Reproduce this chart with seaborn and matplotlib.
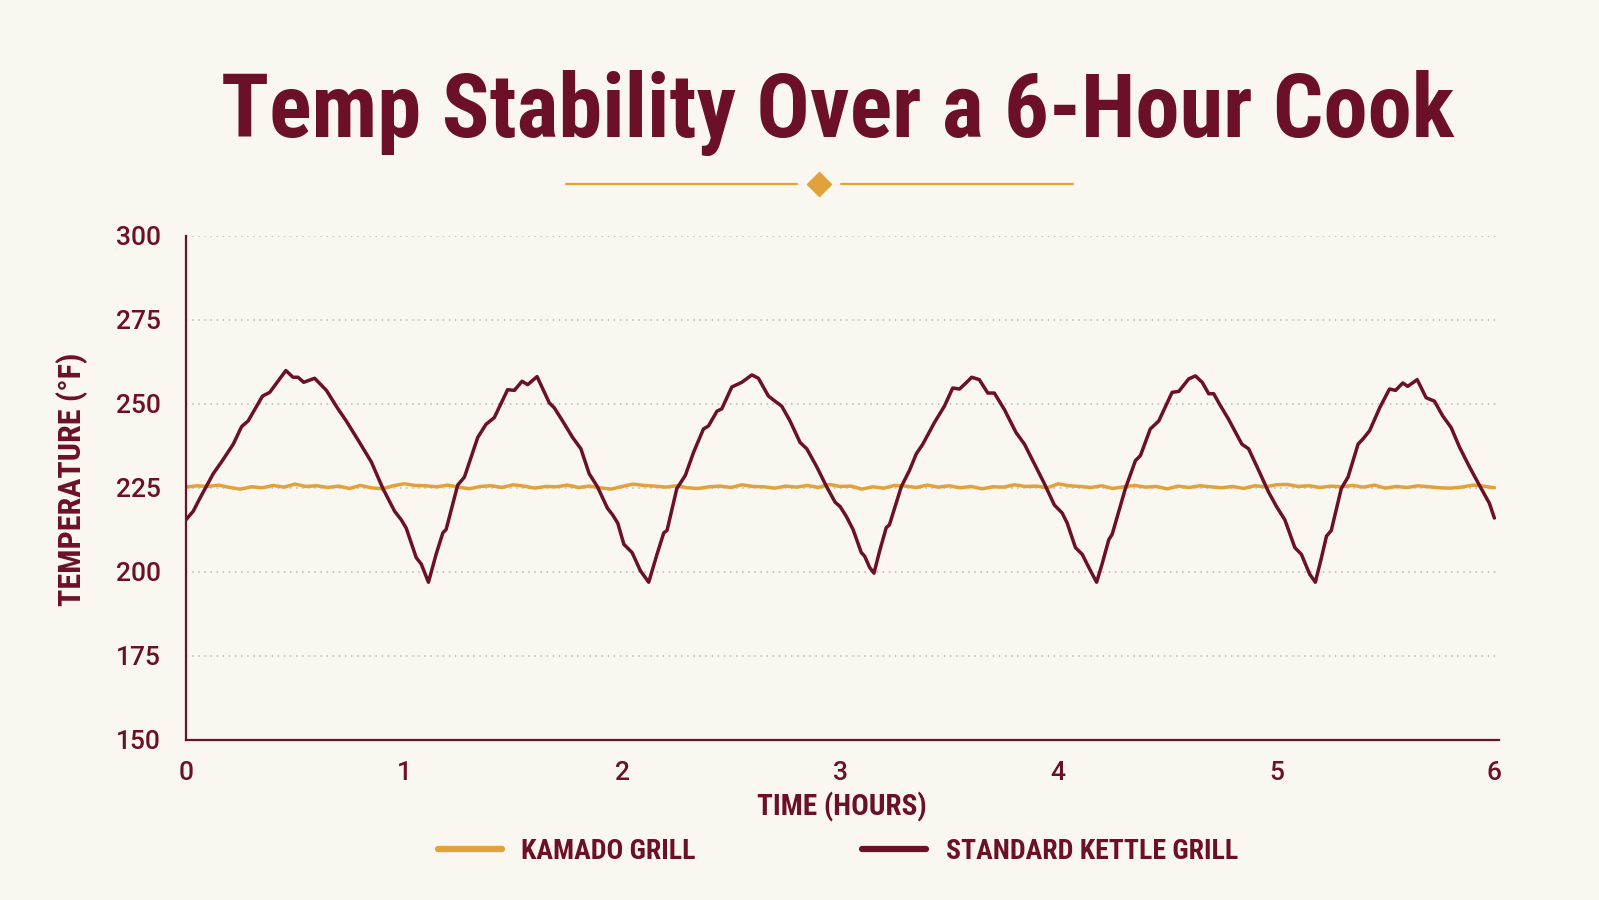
import numpy as np
import pandas as pd
import matplotlib
matplotlib.use("Agg")
import matplotlib.pyplot as plt
from matplotlib.lines import Line2D
import seaborn as sns

# ---------------- data ----------------
kettle_hours = [
    0.000, 0.033, 0.064, 0.125, 0.163, 0.217, 0.255, 0.285, 0.351, 0.384,
    0.458, 0.491, 0.514, 0.540, 0.590, 0.644, 0.697, 0.735, 0.796, 0.850,
    0.903, 0.957, 0.987, 1.010, 1.056, 1.079, 1.112, 1.147, 1.178, 1.193,
    1.246, 1.277, 1.338, 1.376, 1.414, 1.475, 1.506, 1.541, 1.567, 1.610,
    1.666, 1.689, 1.727, 1.773, 1.811, 1.849, 1.887, 1.933, 1.956, 1.980,
    2.008, 2.046, 2.084, 2.122, 2.160, 2.191, 2.206, 2.251, 2.290, 2.328,
    2.373, 2.396, 2.435, 2.457, 2.503, 2.549, 2.595, 2.625, 2.671, 2.701,
    2.732, 2.770, 2.816, 2.847, 2.893, 2.938, 2.977, 3.000, 3.028, 3.059,
    3.097, 3.112, 3.135, 3.155, 3.181, 3.211, 3.226, 3.280, 3.318, 3.349,
    3.379, 3.432, 3.478, 3.516, 3.547, 3.577, 3.603, 3.638, 3.677, 3.707,
    3.753, 3.806, 3.845, 3.890, 3.936, 3.982, 4.018, 4.041, 4.079, 4.110,
    4.148, 4.176, 4.201, 4.232, 4.247, 4.308, 4.354, 4.377, 4.422, 4.461,
    4.522, 4.553, 4.598, 4.629, 4.660, 4.690, 4.713, 4.736, 4.781, 4.842,
    4.873, 4.919, 4.964, 5.001, 5.039, 5.085, 5.115, 5.153, 5.179, 5.207,
    5.230, 5.252, 5.298, 5.329, 5.375, 5.397, 5.428, 5.474, 5.519, 5.547,
    5.580, 5.603, 5.646, 5.687, 5.725, 5.763, 5.802, 5.840, 5.886, 5.931,
    5.977, 6.000,
]
kettle_temp = [
    215.5, 218.0, 221.9, 229.2, 232.7, 238.0, 243.2, 244.9, 252.3, 253.4,
    259.9, 257.9, 257.9, 256.4, 257.6, 254.0, 248.5, 244.9, 238.5, 232.7,
    224.8, 218.0, 215.5, 213.0, 204.2, 202.3, 196.9, 205.2, 211.6, 212.6,
    225.8, 228.2, 240.0, 243.9, 245.9, 254.2, 254.0, 256.7, 255.7, 258.1,
    250.3, 248.8, 244.9, 240.0, 236.6, 229.2, 225.3, 218.9, 217.0, 214.5,
    208.2, 205.7, 200.3, 196.9, 205.2, 211.6, 212.3, 224.8, 228.7, 235.6,
    242.5, 243.4, 247.8, 248.5, 255.0, 256.4, 258.6, 257.6, 252.3, 250.8,
    249.3, 244.9, 238.5, 236.6, 231.2, 225.3, 220.7, 219.4, 216.5, 212.6,
    205.7, 204.7, 201.3, 199.6, 206.2, 213.1, 214.0, 225.3, 230.2, 235.1,
    238.0, 244.4, 249.3, 254.7, 254.4, 256.2, 257.9, 257.2, 253.2, 253.2,
    248.3, 241.5, 238.0, 232.2, 226.3, 219.9, 217.5, 214.5, 207.2, 205.2,
    200.3, 196.9, 202.3, 209.6, 211.1, 224.8, 233.1, 234.6, 242.5, 244.9,
    253.4, 253.7, 257.4, 258.3, 256.4, 253.0, 253.0, 250.3, 245.4, 238.0,
    236.6, 230.2, 223.8, 219.4, 215.5, 207.2, 205.2, 199.3, 196.9, 204.2,
    210.6, 212.3, 224.8, 228.2, 238.0, 239.5, 242.0, 248.8, 254.4, 254.0,
    256.2, 255.2, 257.2, 251.8, 250.8, 246.4, 242.9, 237.1, 231.2, 225.8,
    220.4, 216.0,
]

kamado_hours = [round(i * 0.05, 2) for i in range(121)]
kamado_temp = [
    225.2, 225.6, 225.4, 225.8, 225.1, 224.6, 225.3, 225.0, 225.7, 225.2,
    226.1, 225.4, 225.6, 225.1, 225.5, 224.8, 225.7, 225.0, 224.7, 225.6,
    226.2, 225.7, 225.6, 225.3, 225.8, 225.2, 224.7, 225.4, 225.6, 225.1,
    225.9, 225.5, 224.9, 225.4, 225.3, 225.8, 225.1, 225.5, 225.0, 224.6,
    225.4, 226.1, 225.7, 225.5, 225.2, 225.6, 225.0, 224.8, 225.3, 225.5,
    225.1, 225.9, 225.4, 225.3, 224.9, 225.5, 225.2, 225.7, 225.1, 226.0,
    225.4, 225.5, 224.6, 225.3, 224.9, 225.7, 225.5, 225.1, 225.8, 225.2,
    225.6, 225.0, 225.4, 224.7, 225.3, 225.2, 225.9, 225.4, 225.5, 225.0,
    226.2, 225.6, 225.4, 225.1, 225.6, 224.8, 225.3, 225.7, 225.2, 225.4,
    224.7, 225.5, 225.1, 225.6, 225.3, 225.0, 225.4, 224.8, 225.6, 225.3,
    225.9, 226.0, 225.4, 225.6, 225.1, 225.5, 225.3, 225.7, 225.2, 225.8,
    224.9, 225.4, 225.1, 225.6, 225.3, 225.0, 224.9, 225.2, 225.8, 225.5,
    225.0,
]

series_names = ["KAMADO GRILL", "STANDARD KETTLE GRILL"]
y_ticks = [150, 175, 200, 225, 250, 275, 300]
x_ticks = [0, 1, 2, 3, 4, 5, 6]

title_text = "Temp Stability Over a 6-Hour Cook"
x_label = "TIME (HOURS)"
y_label = "TEMPERATURE (°F)"

# ---------------- style ----------------
BG = "#FAF6F0"
MAROON = "#6B1027"
GOLD = "#E2A23A"
GRID = "#BDB7B0"
COND = ["Roboto Condensed", "Roboto", "DejaVu Sans"]

sns.set_theme(style="white")
plt.rcParams["font.family"] = COND

df = pd.concat([
    pd.DataFrame({"hours": kamado_hours, "temp": kamado_temp, "grill": series_names[0]}),
    pd.DataFrame({"hours": kettle_hours, "temp": kettle_temp, "grill": series_names[1]}),
], ignore_index=True)

fig = plt.figure(figsize=(15.99, 9.0), dpi=100, facecolor=BG)
ax = fig.add_axes([0.1163, 0.178, 0.821, 0.560])
ax.set_facecolor(BG)

palette = {series_names[0]: GOLD, series_names[1]: MAROON}
sns.lineplot(data=df, x="hours", y="temp", hue="grill", hue_order=series_names,
             palette=palette, estimator=None, sort=True, linewidth=2.5,
             legend=False, ax=ax)
for ln in ax.get_lines():
    ln.set_solid_joinstyle("round")
    ln.set_solid_capstyle("round")

ax.set_xlim(0, 6.02)
ax.set_ylim(150, 300)
ax.set_xticks(x_ticks)
ax.set_yticks(y_ticks)
ax.set_xticklabels([str(v) for v in x_ticks])
ax.set_yticklabels([str(v) for v in y_ticks])

for v in y_ticks[1:]:
    ax.axhline(v, color=GRID, lw=1.1, ls=(0, (1, 3)), zorder=0)

for s in ["top", "right"]:
    ax.spines[s].set_visible(False)
for s in ["left", "bottom"]:
    ax.spines[s].set_color(MAROON)
    ax.spines[s].set_linewidth(1.6)

ax.tick_params(axis="both", colors=MAROON, length=7, width=1.4, direction="out")
ax.tick_params(axis="y", pad=11)
ax.tick_params(axis="x", pad=8)
for lab in ax.get_xticklabels() + ax.get_yticklabels():
    lab.set_fontfamily(["Roboto", "DejaVu Sans"])
    lab.set_fontweight("medium")
    lab.set_fontsize(19)
    lab.set_color(MAROON)

ax.set_xlabel(x_label, color=MAROON, fontsize=21, fontweight="bold", labelpad=5)
ax.set_ylabel(y_label, color=MAROON, fontsize=23, fontweight="bold")
ax.yaxis.set_label_coords(-0.075, 0.516)

# title
fig.text(0.524, 0.848, title_text, ha="center", va="baseline", color=MAROON,
         fontsize=63.8, fontweight="bold")

# ornament
orn = fig.add_axes([0, 0, 1, 1], facecolor="none")
orn.set_xlim(0, 1599)
orn.set_ylim(900, 0)
orn.axis("off")
orn.plot([566, 797], [183.5, 183.5], color=GOLD, lw=1.6)
orn.plot([841, 1073], [183.5, 183.5], color=GOLD, lw=1.6)
orn.scatter([819], [183.5], marker="D", s=150, color=GOLD, zorder=3)

# legend
handles = [Line2D([0], [0], color=GOLD, lw=4.5, solid_capstyle="round"),
           Line2D([0], [0], color=MAROON, lw=4.5, solid_capstyle="round")]
leg = fig.legend(handles, series_names, loc="center", bbox_to_anchor=(0.524, 0.054),
                 ncol=2, frameon=False, handlelength=2.3, handletextpad=0.7,
                 columnspacing=6.0, prop={"size": 20, "weight": "bold"})
for t in leg.get_texts():
    t.set_color(MAROON)

fig.savefig("out.png", dpi=100, facecolor=BG)
